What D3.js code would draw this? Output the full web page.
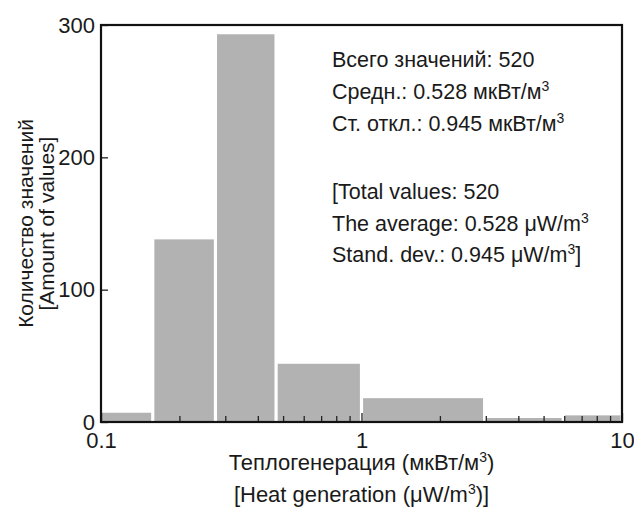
<!DOCTYPE html>
<html>
<head>
<meta charset="utf-8">
<script src="https://cdn.jsdelivr.net/npm/d3@7"></script>
<style>
  body { margin: 0; background: #fff; }
  text { font-family: "Liberation Sans", Arial, sans-serif; fill: #1a1a1a; }
</style>
</head>
<body>
<div id="chart"></div>
<script>
// histogram bins (log-spaced edges) and counts
var binEdges = [0.1, 0.158, 0.275, 0.47, 1, 2.97, 5.95, 10];
var binCounts = [7, 138, 293, 44, 18, 3, 5];

var xMajorTicks = [0.1, 1, 10];
var xMinorTicks = [0.2, 0.3, 0.4, 0.5, 0.6, 0.7, 0.8, 0.9, 2, 3, 4, 5, 6, 7, 8, 9];
var yTicks = [0, 100, 200, 300];

var statsRu = ["Всего значений: 520", "Средн.: 0.528 мкВт/м|3", "Ст. откл.: 0.945 мкВт/м|3"];
var statsEn = ["[Total values: 520", "The average: 0.528 μW/m|3", "Stand. dev.: 0.945 μW/m|3|]"];

var svgWidth = 634;
var svgHeight = 507;

var margin = { top: 25, right: 12, bottom: 85, left: 101 };
var width = svgWidth - margin.left - margin.right;
var height = svgHeight - margin.top - margin.bottom;

var svg = d3.select("#chart")
  .append("svg")
  .attr("width", svgWidth)
  .attr("height", svgHeight);

var chartGroup = svg.append("g")
  .attr("transform", `translate(${margin.left}, ${margin.top})`);

var x = d3.scaleLog().domain([0.1, 10]).range([0, width]);
var y = d3.scaleLinear().domain([0, 300]).range([height, 0]);

var bins = binCounts.map(function(c, i) {
  return { x0: binEdges[i], x1: binEdges[i + 1], count: c };
});

// bars with a thin white gap between them
chartGroup.selectAll("rect.bar")
  .data(bins)
  .enter()
  .append("rect")
  .attr("class", "bar")
  .attr("x", (d, i) => x(d.x0) + (i === 0 ? 0 : 1.6))
  .attr("width", (d, i) => x(d.x1) - x(d.x0) - (i === 0 ? 1.6 : 3.2))
  .attr("y", d => y(d.count))
  .attr("height", d => height - y(d.count))
  .attr("fill", "#b2b2b2");

// minor x ticks (inward)
chartGroup.append("g")
  .attr("transform", `translate(0, ${height})`)
  .call(d3.axisBottom(x).tickValues(xMinorTicks).tickSize(-6).tickFormat(""))
  .call(g => g.select(".domain").remove())
  .selectAll("line").attr("stroke", "#222").attr("stroke-width", 1.3);

// major x ticks with labels
var xAxis = chartGroup.append("g")
  .attr("transform", `translate(0, ${height})`)
  .call(d3.axisBottom(x).tickValues(xMajorTicks).tickSize(-9).tickPadding(10)
    .tickFormat(d => d < 1 ? "0.1" : d3.format("d")(d)));
xAxis.select(".domain").remove();
xAxis.selectAll("line").attr("stroke", "#222").attr("stroke-width", 1.3);
xAxis.selectAll("text").style("font-size", "22px").attr("font-family", null);

// y ticks (inward)
var yAxis = chartGroup.append("g")
  .call(d3.axisLeft(y).tickValues(yTicks).tickSize(-7).tickPadding(6));
yAxis.select(".domain").remove();
yAxis.selectAll("line").attr("stroke", "#222").attr("stroke-width", 1.3);
yAxis.selectAll("text").style("font-size", "22px").attr("font-family", null);

// frame
chartGroup.append("rect")
  .attr("width", width)
  .attr("height", height)
  .attr("fill", "none")
  .attr("stroke", "#111")
  .attr("stroke-width", 2.2);

// stats text with superscripts (pipe marks a superscript part)
function addLine(sel, str, xPos, yPos) {
  var parts = str.split("|");
  var t = sel.append("text")
    .attr("x", xPos)
    .attr("y", yPos)
    .style("font-size", "21.5px");
  parts.forEach(function(p, i) {
    if (i === 1) {
      t.append("tspan").attr("dy", -8).style("font-size", "14px").text(p);
    } else if (i === 2) {
      t.append("tspan").attr("dy", 8).text(p);
    } else {
      t.append("tspan").text(p);
    }
  });
  return t;
}

statsRu.forEach(function(s, i) {
  addLine(svg, s, 332, 67 + i * 32);
});
statsEn.forEach(function(s, i) {
  addLine(svg, s, 332, 199 + i * 31.5);
});

// x axis labels
var xl1 = svg.append("text")
  .attr("x", margin.left + width / 2)
  .attr("y", 470)
  .attr("text-anchor", "middle")
  .style("font-size", "22px");
xl1.append("tspan").text("Теплогенерация (мкВт/м");
xl1.append("tspan").attr("dy", -8).style("font-size", "14px").text("3");
xl1.append("tspan").attr("dy", 8).text(")");

var xl2 = svg.append("text")
  .attr("x", margin.left + width / 2)
  .attr("y", 502)
  .attr("text-anchor", "middle")
  .style("font-size", "22px");
xl2.append("tspan").text("[Heat generation (μW/m");
xl2.append("tspan").attr("dy", -8).style("font-size", "14px").text("3");
xl2.append("tspan").attr("dy", 8).text(")]");

// y axis labels (rotated)
var yMid = margin.top + height / 2;
svg.append("text")
  .attr("transform", `translate(33, ${yMid}) rotate(-90)`)
  .attr("text-anchor", "middle")
  .style("font-size", "21px")
  .text("Количество значений");
svg.append("text")
  .attr("transform", `translate(54, ${yMid}) rotate(-90)`)
  .attr("text-anchor", "middle")
  .style("font-size", "21px")
  .text("[Amount of values]");
</script>
</body>
</html>
